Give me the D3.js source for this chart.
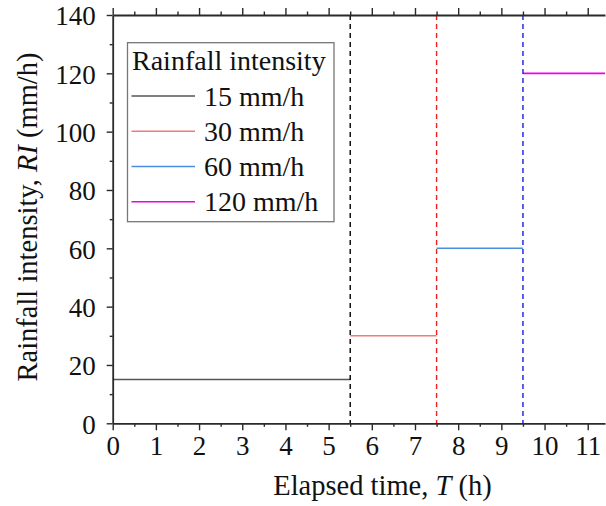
<!DOCTYPE html>
<html><head><meta charset="utf-8">
<script src="https://cdn.jsdelivr.net/npm/d3@7/dist/d3.min.js"></script>
<style>body{margin:0;background:#fff}svg{display:block}text{font-family:"Liberation Serif","Times New Roman",serif}</style>
</head><body><svg id="c" width="606" height="506"></svg>
<script>
const seriesLabels = ["15 mm/h","30 mm/h","60 mm/h","120 mm/h"];
const intensities = [15,30,60,120];
const startTimes = [0,5.5,7.5,9.5];
const endTimes = [5.5,7.5,9.5,11.4];
const switchTimes = [5.5,7.5,9.5];
const xTicks = [0,1,2,3,4,5,6,7,8,9,10,11];
const yTicks = [0,20,40,60,80,100,120,140];
const lineColors = ["#555555","#f47a7a","#4a8ee0","#ee00ee"];
const dashColors = ["#000000","#ee2020","#1a1ae6"];

const svg = d3.select("#c");
const x = d3.scaleLinear().domain([0,11.4]).range([112.7,605]);
const y = d3.scaleLinear().domain([0,140]).range([423.3,15]);
const axisColor = "#2a2a2a";

// data lines
svg.selectAll("line.seg").data(intensities).join("line")
  .attr("x1",(d,i)=>x(startTimes[i])).attr("x2",(d,i)=>x(endTimes[i]))
  .attr("y1",d=>y(d)).attr("y2",d=>y(d))
  .attr("stroke",(d,i)=>lineColors[i]).attr("stroke-width",1.6);

// dashed switch lines
svg.selectAll("line.dash").data(switchTimes).join("line")
  .attr("x1",d=>x(d)).attr("x2",d=>x(d)).attr("y1",y(140)).attr("y2",y(0))
  .attr("stroke",(d,i)=>dashColors[i]).attr("stroke-width",1.4).attr("stroke-dasharray","5,4");

function styleAxis(g){
  g.selectAll("path.domain").attr("stroke",axisColor).attr("stroke-width",1.8);
  g.selectAll(".tick line").attr("stroke",axisColor).attr("stroke-width",1.4);
  g.selectAll("text").attr("font-family","Liberation Serif, serif").attr("font-size",27).attr("fill","#111");
}
const minorX = d3.range(0.5,11.4,1);
const minorY = d3.range(10,140,20);
function minor(g){g.select(".domain").remove();g.selectAll(".tick line").attr("stroke",axisColor).attr("stroke-width",1.4);}

// bottom axis
const gb = svg.append("g").attr("transform",`translate(0,${y(0)})`)
  .call(d3.axisBottom(x).tickValues(xTicks).tickFormat(d3.format("d")).tickSize(7).tickPadding(6).tickSizeOuter(0));
styleAxis(gb);
svg.append("g").attr("transform",`translate(0,${y(0)})`)
  .call(d3.axisBottom(x).tickValues(minorX).tickFormat("").tickSize(3.5).tickSizeOuter(0)).call(minor);
// top axis
const gt = svg.append("g").attr("transform",`translate(0,${y(140)})`)
  .call(d3.axisTop(x).tickValues(xTicks).tickFormat("").tickSize(7).tickSizeOuter(0));
styleAxis(gt);
svg.append("g").attr("transform",`translate(0,${y(140)})`)
  .call(d3.axisTop(x).tickValues(minorX).tickFormat("").tickSize(3.5).tickSizeOuter(0)).call(minor);
// left axis
const gl = svg.append("g").attr("transform",`translate(${x(0)},0)`)
  .call(d3.axisLeft(y).tickValues(yTicks).tickSize(6).tickPadding(11).tickSizeOuter(0));
styleAxis(gl);
gl.selectAll("text").attr("dy","0.36em");
svg.append("g").attr("transform",`translate(${x(0)},0)`)
  .call(d3.axisLeft(y).tickValues(minorY).tickFormat("").tickSize(3).tickSizeOuter(0)).call(minor);

// axis titles
const xt = svg.append("text").attr("x",382.5).attr("y",495).attr("text-anchor","middle").attr("font-size",28.5).attr("fill","#111");
xt.append("tspan").text("Elapsed time, ");
xt.append("tspan").attr("font-style","italic").text("T");
xt.append("tspan").text(" (h)");
const yt = svg.append("text").attr("transform","translate(37,217) rotate(-90)").attr("text-anchor","middle").attr("font-size",28.5).attr("fill","#111");
yt.append("tspan").text("Rainfall intensity, ");
yt.append("tspan").attr("font-style","italic").text("RI");
yt.append("tspan").text(" (mm/h)");

// legend
const lg = svg.append("g");
lg.append("rect").attr("x",127.5).attr("y",42.7).attr("width",206.5).attr("height",179)
  .attr("fill","#fff").attr("stroke","#777").attr("stroke-width",1.3);
lg.append("text").attr("x",132).attr("y",70).attr("font-size",28).attr("fill","#111").text("Rainfall intensity");
const rowY = d3.scaleLinear().domain([0,3]).range([96,201.7]);
seriesLabels.forEach((lab,i)=>{
  lg.append("line").attr("x1",131.5).attr("x2",195).attr("y1",rowY(i)).attr("y2",rowY(i))
    .attr("stroke",lineColors[i]).attr("stroke-width",1.6);
  lg.append("text").attr("x",204).attr("y",rowY(i)+9.5).attr("font-size",28).attr("fill","#111").text(lab);
});
</script></body></html>
